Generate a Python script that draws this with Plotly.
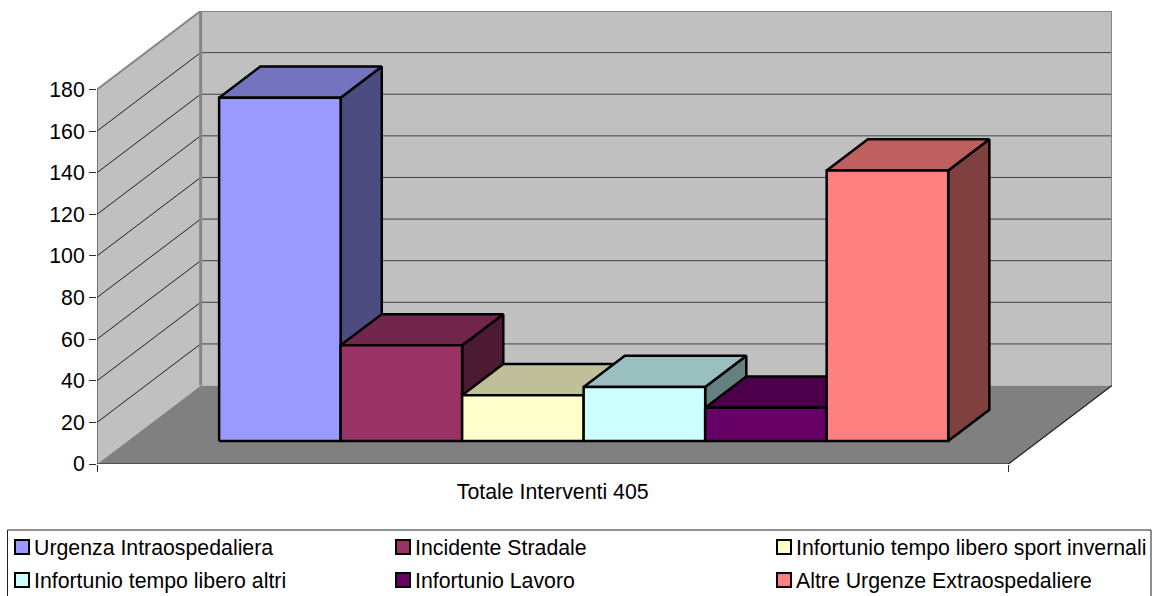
import plotly.graph_objects as go

# Series of the 3D-look column chart
categories = [
    "Urgenza Intraospedaliera",
    "Incidente Stradale",
    "Infortunio tempo libero sport invernali",
    "Infortunio tempo libero altri",
    "Infortunio Lavoro",
    "Altre Urgenze Extraospedaliere",
]
values = [165, 46, 22, 26, 16, 130]
front_colors = ["#9999FF", "#993366", "#FFFFCC", "#CCFFFF", "#660066", "#FF8080"]
y_ticks = [0, 20, 40, 60, 80, 100, 120, 140, 160, 180]
category_label = "Totale Interventi 405"

FONT = "Liberation Sans, Arial, sans-serif"
FONT_SIZE = 21.3

# Oblique projection: x is measured in column widths, y in chart units.
X_LEFT, X_RIGHT = -0.755, 6.745
DEPTH_X, DEPTH_Y = 0.853, 37.7
BAR_NEAR, BAR_FAR = 0.293, 0.69
Y_MAX = y_ticks[-1]


def shade(color, factor):
    r, g, b = (int(color[i:i + 2], 16) for i in (1, 3, 5))
    return f"rgb({round(r * factor)},{round(g * factor)},{round(b * factor)})"


def project(x, y, depth):
    return x + DEPTH_X * depth, y + DEPTH_Y * depth


def polygon(corners, fill, line_color, line_width):
    xs, ys = zip(*[project(*c) for c in corners])
    return go.Scatter(
        x=list(xs) + [xs[0]], y=list(ys) + [ys[0]], mode="lines", fill="toself",
        fillcolor=fill, line=dict(color=line_color, width=line_width),
        hoverinfo="skip", showlegend=False, cliponaxis=False,
    )


def path(corners, color, width):
    xs, ys = zip(*[project(*c) for c in corners])
    return go.Scatter(
        x=list(xs), y=list(ys), mode="lines", line=dict(color=color, width=width),
        hoverinfo="skip", showlegend=False, cliponaxis=False,
    )


fig = go.Figure()

WALL, EDGE, FLOOR = "#C0C0C0", "#858585", "#808080"

# Floor and the two walls
fig.add_trace(polygon([(X_LEFT, 0, 0), (X_RIGHT, 0, 0), (X_RIGHT, 0, 1), (X_LEFT, 0, 1)],
                      FLOOR, FLOOR, 0.5))
fig.add_trace(polygon([(X_LEFT, 0, 0), (X_LEFT, 0, 1), (X_LEFT, Y_MAX, 1), (X_LEFT, Y_MAX, 0)],
                      WALL, WALL, 0.5))
fig.add_trace(polygon([(X_LEFT, 0, 1), (X_RIGHT, 0, 1), (X_RIGHT, Y_MAX, 1), (X_LEFT, Y_MAX, 1)],
                      WALL, WALL, 0.5))

# Gridlines run along the side wall, then across the back wall
for v in y_ticks[1:-1]:
    fig.add_trace(path([(X_LEFT, v, 0), (X_LEFT, v, 1)], "#202020", 1))
    fig.add_trace(path([(X_LEFT, v, 1), (X_RIGHT, v, 1)], "#404040", 1))

# Wall edges
fig.add_trace(path([(X_LEFT, Y_MAX, 0), (X_LEFT, Y_MAX, 1), (X_RIGHT, Y_MAX, 1), (X_RIGHT, 0, 1)], EDGE, 2))
fig.add_trace(path([(X_LEFT, 0, 1), (X_LEFT, Y_MAX, 1)], EDGE, 3))

# Axis lines and floor edge
fig.add_trace(path([(X_LEFT, 0, 0), (X_LEFT, Y_MAX, 0)], "#404040", 1.2))
fig.add_trace(path([(X_LEFT, 0, 0), (X_RIGHT, 0, 0), (X_RIGHT, 0, 1)], "#202020", 1.2))

# Columns, painted left to right: side, top, then front
for i, (name, value, color) in enumerate(zip(categories, values, front_colors)):
    left, right = i, i + 1
    fig.add_trace(polygon([(right, 0, BAR_NEAR), (right, 0, BAR_FAR), (right, value, BAR_FAR), (right, value, BAR_NEAR)],
                          shade(color, 0.5), "#000000", 2.5))
    fig.add_trace(polygon([(left, value, BAR_NEAR), (right, value, BAR_NEAR), (right, value, BAR_FAR), (left, value, BAR_FAR)],
                          shade(color, 0.75), "#000000", 2.5))
    fig.add_trace(polygon([(left, 0, BAR_NEAR), (right, 0, BAR_NEAR), (right, value, BAR_NEAR), (left, value, BAR_NEAR)],
                          color, "#000000", 2.5))

# Page geometry in pixels
PLOT_L, PLOT_R, PLOT_T, PLOT_B = 97, 1112, 11, 464
WIDTH, HEIGHT = 1155, 596


def px(x):
    return (x - PLOT_L) / (PLOT_R - PLOT_L)


def py(y):
    return (PLOT_B - y) / (PLOT_B - PLOT_T)


# Legend: framed box with three columns and two rows; the frame runs off the page bottom
shapes = [dict(type="rect", xref="paper", yref="paper", x0=px(7.5), x1=px(1151), y0=py(530), y1=py(602),
               line=dict(color="#202020", width=1), fillcolor="white", layer="below")]
annotations = []
columns = [15, 396, 777]
rows = [540, 573]
for i, (name, color) in enumerate(zip(categories, front_colors)):
    sx, sy = columns[i % 3], rows[i // 3]
    shapes.append(dict(type="rect", xref="paper", yref="paper", x0=px(sx), x1=px(sx + 14), y0=py(sy), y1=py(sy + 14),
                       fillcolor=color, line=dict(color="#000000", width=2)))
    annotations.append(dict(xref="paper", yref="paper", x=px(sx + 17), y=py(sy + 8), text=name, showarrow=False,
                            xanchor="left", yanchor="middle", font=dict(family=FONT, size=FONT_SIZE, color="#000000")))

fig.update_layout(
    width=WIDTH, height=HEIGHT, autosize=False,
    margin=dict(l=PLOT_L, r=WIDTH - PLOT_R, t=PLOT_T, b=HEIGHT - PLOT_B, pad=0),
    paper_bgcolor="white", plot_bgcolor="white",
    font=dict(family=FONT, size=FONT_SIZE, color="#000000"),
    showlegend=False, shapes=shapes, annotations=annotations,
    xaxis=dict(
        range=[X_LEFT, X_RIGHT + DEPTH_X], showgrid=False, zeroline=False, showline=False,
        tickmode="array", tickvals=[(X_LEFT + X_RIGHT) / 2], ticktext=[category_label],
        ticks="", ticklabelstandoff=13,
        minor=dict(tickmode="array", tickvals=[X_LEFT, X_RIGHT], ticks="outside", ticklen=7,
                   tickwidth=1, tickcolor="#303030", showgrid=False),
    ),
    yaxis=dict(
        range=[0, Y_MAX + DEPTH_Y], showgrid=False, zeroline=False, showline=False,
        tickmode="array", tickvals=y_ticks, ticks="outside", ticklen=7,
        tickwidth=1, tickcolor="#303030",
    ),
)

fig.write_html("out.html", config=dict(displayModeBar=False))
